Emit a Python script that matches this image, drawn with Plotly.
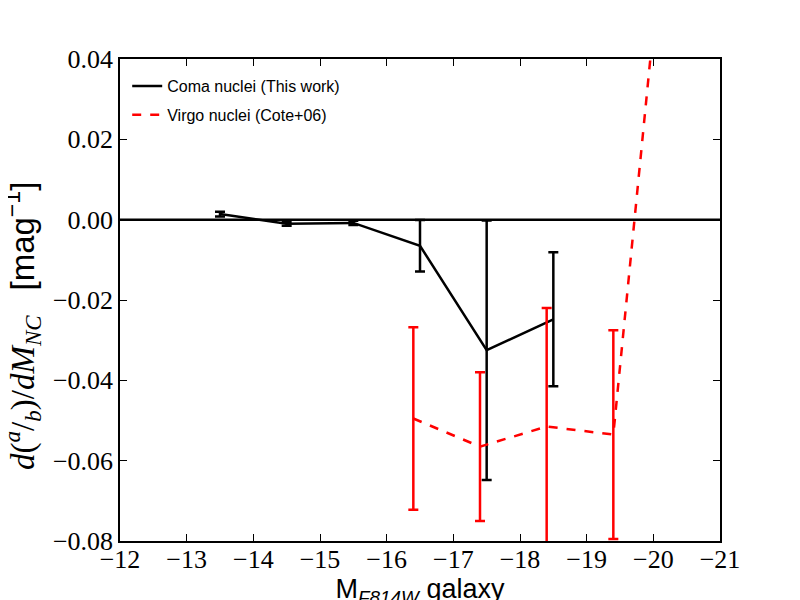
import plotly.graph_objects as go

coma_x = [-13.5, -14.5, -15.5, -16.5, -17.5, -18.5]
coma_y = [0.0014, -0.0010, -0.0008, -0.0065, -0.0325, -0.0248]
coma_err = [0.0006, 0.0005, 0.0005, 0.0064, 0.0323, 0.0167]

virgo_x = [-16.4, -17.4, -18.4, -19.4, -20.4]
virgo_y = [-0.0495, -0.0565, -0.0515, -0.0535, 0.115]
virgo_err = [0.0227, 0.0185, 0.0295, 0.026, 0.02]

x_ticks = [-12, -13, -14, -15, -16, -17, -18, -19, -20, -21]
x_labels = ["−12", "−13", "−14", "−15", "−16", "−17", "−18", "−19", "−20", "−21"]
y_ticks = [-0.08, -0.06, -0.04, -0.02, 0.0, 0.02, 0.04]
y_labels = ["−0.08", "−0.06", "−0.04", "−0.02", "0.00", "0.02", "0.04"]

fig = go.Figure()
fig.add_shape(type="line", xref="paper", yref="y", x0=0, x1=1, y0=0, y1=0,
              line=dict(color="black", width=2.5))
fig.add_trace(go.Scatter(
    x=coma_x, y=coma_y, mode="lines", name="Coma nuclei (This work)",
    line=dict(color="black", width=2.5), legend="legend",
    error_y=dict(type="data", array=coma_err, color="black", thickness=2.5, width=5),
))
fig.add_trace(go.Scatter(
    x=virgo_x, y=virgo_y, mode="lines", name="Virgo nuclei (Cote+06)",
    line=dict(color="red", width=2.5, dash="dash"), legend="legend2",
    error_y=dict(type="data", array=virgo_err, color="red", thickness=2.5, width=5),
))

legfont = dict(family="Liberation Sans", size=16, color="black")
fig.update_layout(
    width=800, height=600,
    font=dict(family="Liberation Serif", color="black"),
    margin=dict(l=112, r=88, t=51, b=67, autoexpand=False),
    paper_bgcolor="white", plot_bgcolor="white",
    showlegend=True,
    legend=dict(x=0.012, y=0.944, xanchor="left", yanchor="middle",
                bgcolor="rgba(0,0,0,0)", font=legfont, itemwidth=30),
    legend2=dict(x=0.012, y=0.884, xanchor="left", yanchor="middle",
                 bgcolor="rgba(0,0,0,0)", font=legfont, itemwidth=30),
)
fig.update_xaxes(
    range=[-12, -21], tickmode="array", tickvals=x_ticks, ticktext=x_labels,
    ticks="inside", ticklen=7, tickwidth=1, tickcolor="black",
    showline=True, linecolor="black", linewidth=1.5, mirror="ticks",
    showgrid=False, zeroline=False, automargin=False, ticklabelstandoff=-6,
    tickfont=dict(family="Liberation Serif", size=26, color="black"),
    title=dict(text="M<sub><i>F814W</i></sub> galaxy",
               font=dict(family="Liberation Sans", size=27, color="black"),
               standoff=0),
)
fig.update_yaxes(
    range=[-0.08, 0.04], tickmode="array", tickvals=y_ticks, ticktext=y_labels,
    ticks="inside", ticklen=7, tickwidth=1, tickcolor="black",
    showline=True, linecolor="black", linewidth=1.5, mirror="ticks",
    showgrid=False, zeroline=False, automargin=False,
    tickfont=dict(family="Liberation Serif", size=26, color="black"),
)
fig.add_annotation(
    text=("<i>d</i>(<sup><i>a</i></sup>/<sub><i>b</i></sub>)/<i>dM</i><sub><i>NC</i></sub>"
          "&nbsp;&nbsp;&nbsp;<span style='font-family:Liberation Sans'>[mag<sup>−1</sup>]</span>"),
    font=dict(family="Liberation Serif", size=33, color="black"),
    textangle=-90, xref="paper", yref="paper",
    x=(14 - 112) / 600, y=(533 - 318) / 482, xanchor="center", yanchor="middle",
    showarrow=False,
)
fig.write_html("out.html")
